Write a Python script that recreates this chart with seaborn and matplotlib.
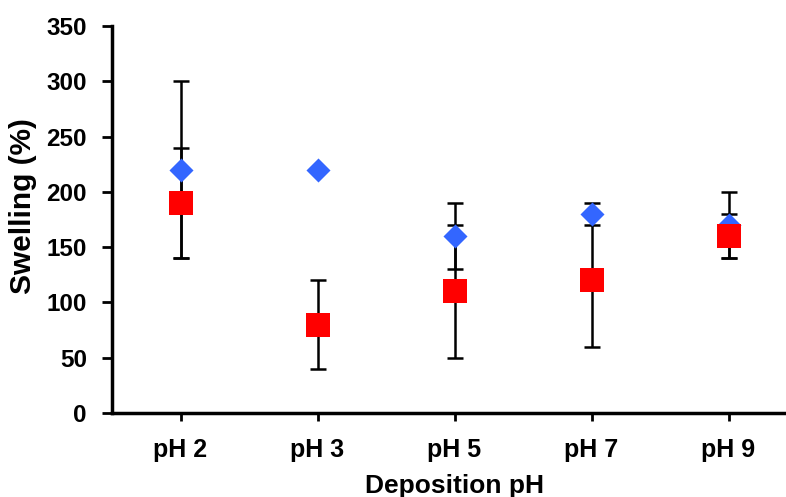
import matplotlib
matplotlib.use("Agg")
import matplotlib.pyplot as plt
import seaborn as sns
import pandas as pd
import numpy as np

categories = ["pH 2", "pH 3", "pH 5", "pH 7", "pH 9"]
blue_values = [220, 220, 160, 180, 170]
blue_errors = [80, 0, 30, 10, 30]
red_values = [190, 80, 110, 120, 160]
red_errors = [50, 40, 60, 60, 20]
y_ticks = [0, 50, 100, 150, 200, 250, 300, 350]

sns.set_style("white")
plt.rcParams['font.family'] = ['Liberation Sans', 'DejaVu Sans']
plt.rcParams['font.weight'] = 'bold'
plt.rcParams['text.color'] = 'black'
plt.rcParams['axes.labelcolor'] = 'black'
plt.rcParams['xtick.color'] = 'black'
plt.rcParams['ytick.color'] = 'black'

fig = plt.figure(figsize=(7.86, 4.97), dpi=100)
ax = fig.add_axes([112/786, 1 - 413/497, 685/786, (413 - 26)/497])

x = np.arange(len(categories))
df_blue = pd.DataFrame({"x": x, "y": blue_values})
df_red = pd.DataFrame({"x": x, "y": red_values})

ax.errorbar(x, blue_values, yerr=blue_errors, fmt='none', ecolor='black',
            elinewidth=1.8, capsize=6, capthick=1.8, zorder=1)
ax.errorbar(x, red_values, yerr=red_errors, fmt='none', ecolor='black',
            elinewidth=1.8, capsize=6, capthick=1.8, zorder=1)

sns.scatterplot(data=df_blue, x="x", y="y", marker="D", s=150, color="#3366FF",
                edgecolor="#3366FF", linewidth=0, ax=ax, zorder=3)
sns.scatterplot(data=df_red, x="x", y="y", marker="s", s=300, color="#FF0000",
                edgecolor="#FF0000", linewidth=0, ax=ax, zorder=4)

ax.set_xlim(-0.5, 4.5)
ax.set_ylim(0, 350)
ax.set_xticks(x)
ax.set_xticklabels(categories)
ax.set_yticks(y_ticks)
for s in ["top", "right"]:
    ax.spines[s].set_visible(False)
for s in ["left", "bottom"]:
    ax.spines[s].set_linewidth(2.5)
    ax.spines[s].set_color("black")
ax.tick_params(axis='y', direction='out', length=7, width=2, labelsize=17.5, pad=11, left=True, colors='black')
ax.tick_params(axis='x', direction='out', length=6, width=2, labelsize=18, pad=12, bottom=True, colors='black')
for lab in ax.get_xticklabels() + ax.get_yticklabels():
    lab.set_fontweight('bold')
ax.set_xlabel("Deposition pH", fontsize=19, fontweight='bold', color='black')
ax.xaxis.set_label_coords(0.5, -0.158)
ax.set_ylabel("Swelling (%)", fontsize=21.5, fontweight='bold', color='black')
ax.yaxis.set_label_coords(-0.109, 0.535)

fig.savefig("out.png", dpi=100)
